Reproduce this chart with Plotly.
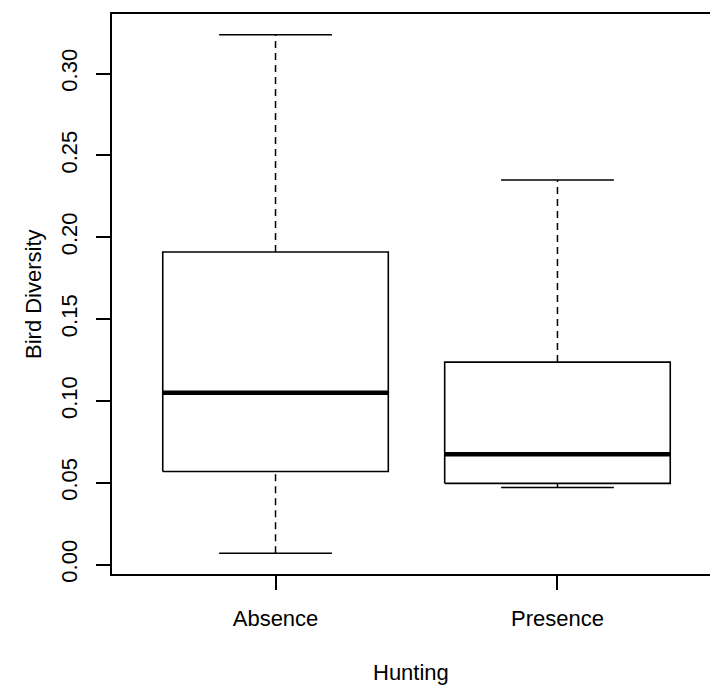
import plotly.graph_objects as go

# ---- data ----
groups = ["Absence", "Presence"]
lower_whisker = [0.0069, 0.047]
q1 = [0.0568, 0.0496]
median = [0.1049, 0.0673]
q3 = [0.191, 0.1237]
upper_whisker = [0.3237, 0.235]
y_ticks = [0.00, 0.05, 0.10, 0.15, 0.20, 0.25, 0.30]
y_tick_labels = ["0.00", "0.05", "0.10", "0.15", "0.20", "0.25", "0.30"]
x_title = "Hunting"
y_title = "Bird Diversity"

FONT = "Liberation Sans, Arial, Helvetica, sans-serif"
FS = 22
half_box = 0.4
half_staple = 0.2

fig = go.Figure()
positions = list(range(1, len(groups) + 1))
for p, lo, a, m, b, hi in zip(positions, lower_whisker, q1, median, q3, upper_whisker):
    # dashed whiskers
    fig.add_trace(go.Scatter(x=[p, p], y=[b, hi], mode="lines",
                             line=dict(color="black", width=1.5, dash="7px,5px"),
                             hoverinfo="skip", showlegend=False))
    fig.add_trace(go.Scatter(x=[p, p], y=[lo, a], mode="lines",
                             line=dict(color="black", width=1.5, dash="7px,5px"),
                             hoverinfo="skip", showlegend=False))
    # staples
    for v in (lo, hi):
        fig.add_trace(go.Scatter(x=[p - half_staple, p + half_staple], y=[v, v], mode="lines",
                                 line=dict(color="black", width=1.5),
                                 hoverinfo="skip", showlegend=False))
    # box
    fig.add_trace(go.Scatter(x=[p - half_box, p + half_box, p + half_box, p - half_box, p - half_box],
                             y=[a, a, b, b, a], mode="lines",
                             line=dict(color="black", width=1.6),
                             hoverinfo="skip", showlegend=False))
    # median
    fig.add_trace(go.Scatter(x=[p - half_box, p + half_box], y=[m, m], mode="lines",
                             line=dict(color="black", width=4.5),
                             hoverinfo="skip", showlegend=False))

fig.update_layout(
    width=710, height=687,
    margin=dict(l=112, r=0, t=14, b=113),
    paper_bgcolor="white", plot_bgcolor="white",
    font=dict(family=FONT, size=FS, color="black"),
    showlegend=False,
    xaxis=dict(range=[0.42, 2.541], tickvals=positions, ticktext=groups,
               showgrid=False, zeroline=False, showline=True, mirror=True,
               linecolor="black", linewidth=1.6, ticks="outside", ticklen=14,
               tickwidth=1.5, tickcolor="black", ticklabelstandoff=10),
    yaxis=dict(range=[-0.0058, 0.3364], tickvals=y_ticks, ticktext=y_tick_labels,
               showgrid=False, zeroline=False, showline=True, mirror=False,
               linecolor="black", linewidth=1.6, ticks="outside", ticklen=14,
               tickwidth=1.5, tickcolor="black", tickangle=-90, ticklabelstandoff=10),
    annotations=[
        dict(text=x_title, xref="paper", yref="paper", x=0.5, y=-(672 - 574) / 560,
             showarrow=False, xanchor="center", yanchor="middle",
             font=dict(family=FONT, size=FS)),
        dict(text=y_title, xref="paper", yref="paper", x=-(112 - 33) / 598, y=0.5,
             showarrow=False, xanchor="center", yanchor="middle", textangle=-90,
             font=dict(family=FONT, size=FS)),
    ],
)

fig.write_html("out.html", config={"displayModeBar": False},
               post_script="document.body.style.margin='0px';document.body.style.overflow='hidden';")
